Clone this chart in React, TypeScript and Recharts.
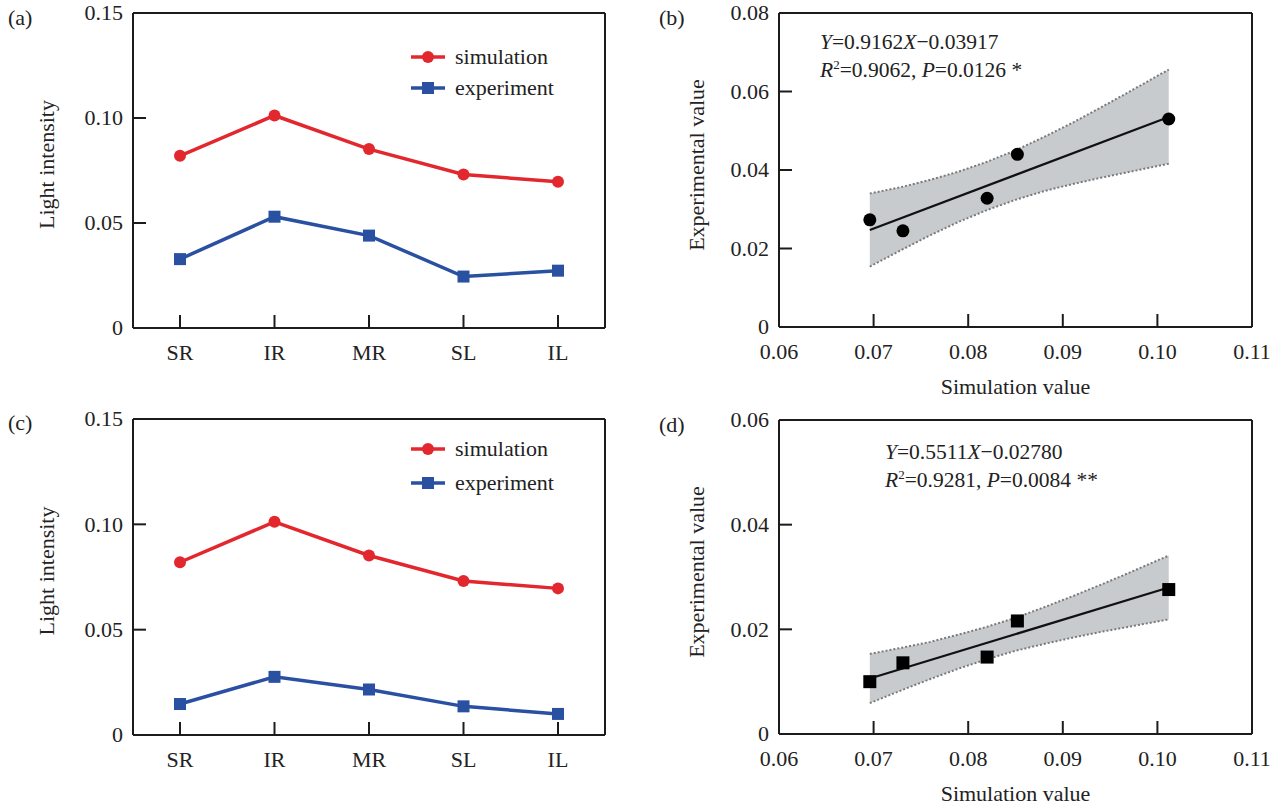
import React from 'react';
import {
  ComposedChart,
  Line,
  XAxis,
  YAxis,
  CartesianGrid,
  Legend,
  Scatter,
  Area,
  Label,
} from 'recharts';

// ---------------- data ----------------
const categories = ['SR', 'IR', 'MR', 'SL', 'IL'];
const simulationA = [0.082, 0.1012, 0.0852, 0.0731, 0.0696];
const experimentA = [0.0328, 0.053, 0.044, 0.0245, 0.0273];
const simulationC = [0.082, 0.1012, 0.0852, 0.0731, 0.0696];
const experimentC = [0.0147, 0.0276, 0.0216, 0.0136, 0.01];
const legendOrder = ['simulation', 'experiment'];

const intensityTicks = [0, 0.05, 0.1, 0.15];
const intensityTickLabels = ['0', '0.05', '0.10', '0.15'];
const simTicks = [0.06, 0.07, 0.08, 0.09, 0.1, 0.11];
const simTickLabels = ['0.06', '0.07', '0.08', '0.09', '0.10', '0.11'];
const expTicksB = [0, 0.02, 0.04, 0.06, 0.08];
const expTickLabelsB = ['0', '0.02', '0.04', '0.06', '0.08'];
const expTicksD = [0, 0.02, 0.04, 0.06];
const expTickLabelsD = ['0', '0.02', '0.04', '0.06'];

// scatter points (simulation value vs experimental value)
const pointSimB = [0.0696, 0.0731, 0.082, 0.0852, 0.1012];
const pointExpB = [0.0273, 0.0245, 0.0328, 0.044, 0.053];
const pointSimD = [0.0696, 0.0731, 0.082, 0.0852, 0.1012];
const pointExpD = [0.01, 0.0136, 0.0147, 0.0216, 0.0276];

// fitted lines (end points)
const fitSimB = [0.0696, 0.1012];
const fitExpB = [0.0247, 0.0535];
const fitSimD = [0.0696, 0.1012];
const fitExpD = [0.0106, 0.028];

// confidence band edges
const bandSim = [0.0696, 0.073, 0.076, 0.079, 0.082, 0.085, 0.088, 0.091, 0.094, 0.097, 0.1012];
const bandUpperB = [0.034, 0.0357, 0.0375, 0.0396, 0.0421, 0.045, 0.0484, 0.052, 0.0559, 0.0599, 0.0656];
const bandLowerB = [0.0154, 0.0197, 0.0234, 0.0268, 0.0298, 0.0324, 0.0346, 0.0364, 0.038, 0.0395, 0.0416];
const bandUpperD = [0.0153, 0.0165, 0.0176, 0.019, 0.0205, 0.0222, 0.0242, 0.0263, 0.0285, 0.0308, 0.0341];
const bandLowerD = [0.0059, 0.0084, 0.0105, 0.0125, 0.0143, 0.0159, 0.0172, 0.0184, 0.0195, 0.0205, 0.0219];

// ---------------- styling ----------------
const FONT = '"Liberation Serif", "Times New Roman", serif';
const TEXT = '#222';
const FRAME = '#1c1c1c';
const RED = '#e3272e';
const BLUE = '#2a50a2';
const BAND = '#c7cbce';
const DOTTED = '#7a7a7a';
const TICK_MARGIN = 10;
const MARK = 13;
const FS = 22;

const lineData = (sim: number[], exp: number[]) =>
  categories.map((c, i) => ({ cat: c, simulation: sim[i], experiment: exp[i] }));
const pairs = (xs: number[], ys: number[]) => xs.map((x, i) => ({ x, y: ys[i] }));
const bandData = (lo: number[], hi: number[]) =>
  bandSim.map((x, i) => ({ x, range: [lo[i], hi[i]], lower: lo[i], upper: hi[i] }));

const dataA = lineData(simulationA, experimentA);
const dataC = lineData(simulationC, experimentC);
const ptsB = pairs(pointSimB, pointExpB);
const ptsD = pairs(pointSimD, pointExpD);
const fitB = pairs(fitSimB, fitExpB);
const fitD = pairs(fitSimD, fitExpD);
const bandB = bandData(bandLowerB, bandUpperB);
const bandD = bandData(bandLowerD, bandUpperD);

// ---------------- ticks ----------------
const makeYTick = (ticks: number[], labels: string[], edges: number[]) => (props: any) => {
  const { x, y, payload } = props;
  const v = payload.value;
  const idx = ticks.findIndex((t) => Math.abs(t - v) < 1e-9);
  const axisX = x + TICK_MARGIN;
  const isEdge = edges.some((e) => Math.abs(e - v) < 1e-9);
  return (
    <g>
      {!isEdge && (
        <line x1={axisX} x2={axisX + MARK} y1={y} y2={y} stroke={FRAME} strokeWidth={2} />
      )}
      <text x={x} y={y} dy="0.34em" textAnchor="end" fontFamily={FONT} fontSize={FS} fill={TEXT}>
        {idx >= 0 ? labels[idx] : String(v)}
      </text>
    </g>
  );
};

const makeXTick = (labelOf: (v: any) => string, edges: number[]) => (props: any) => {
  const { x, y, payload } = props;
  const v = payload.value;
  const axisY = y - TICK_MARGIN;
  const isEdge = typeof v === 'number' && edges.some((e) => Math.abs(e - v) < 1e-9);
  return (
    <g>
      {!isEdge && (
        <line x1={x} x2={x} y1={axisY} y2={axisY - MARK} stroke={FRAME} strokeWidth={2} />
      )}
      <text x={x} y={axisY + 25} dy="0.34em" textAnchor="middle" fontFamily={FONT} fontSize={FS} fill={TEXT}>
        {labelOf(v)}
      </text>
    </g>
  );
};

const simLabel = (v: number) => {
  const i = simTicks.findIndex((t) => Math.abs(t - v) < 1e-9);
  return i >= 0 ? simTickLabels[i] : String(v);
};

const yTitle = (text: string, fromPlot: number, shift: number) => (props: any) => {
  const vb = props.viewBox || {};
  const cx = vb.x + vb.width - fromPlot;
  const cy = vb.y + vb.height / 2 + shift;
  return (
    <text
      x={cx}
      y={cy}
      dy="0.34em"
      transform={`rotate(-90 ${cx} ${cy})`}
      textAnchor="middle"
      fontFamily={FONT}
      fontSize={FS}
      fill={TEXT}
    >
      {text}
    </text>
  );
};

const xTitle = (text: string, below: number) => (props: any) => {
  const vb = props.viewBox || {};
  const cx = vb.x + vb.width / 2;
  const cy = vb.y + below;
  return (
    <text x={cx} y={cy} dy="0.34em" textAnchor="middle" fontFamily={FONT} fontSize={FS} fill={TEXT}>
      {text}
    </text>
  );
};

const frameH = (p: any) => [p.offset.top, p.offset.top + p.offset.height];
const frameV = (p: any) => [p.offset.left, p.offset.left + p.offset.width];

// ---------------- markers ----------------
const circleDot = (color: string, r: number) => (p: any) =>
  p.cx == null ? null : <circle key={`c${p.index}`} cx={p.cx} cy={p.cy} r={r} fill={color} />;
const squareDot = (color: string, s: number) => (p: any) =>
  p.cx == null ? null : (
    <rect key={`s${p.index}`} x={p.cx - s / 2} y={p.cy - s / 2} width={s} height={s} fill={color} />
  );

const makeLegend = (rowH: number) => (props: any) => {
  const payload = [...(props.payload || [])].sort(
    (a: any, b: any) => legendOrder.indexOf(a.dataKey) - legendOrder.indexOf(b.dataKey)
  );
  return (
    <div>
      {payload.map((e: any) => {
        const isSim = e.dataKey === 'simulation';
        const color = isSim ? RED : BLUE;
        return (
          <div key={e.value} style={{ display: 'flex', alignItems: 'center', height: rowH }}>
            <svg width={34} height={16} style={{ display: 'block' }}>
              <line x1={0} x2={34} y1={8} y2={8} stroke={color} strokeWidth={3.5} />
              {isSim ? (
                <circle cx={17} cy={8} r={6} fill={color} />
              ) : (
                <rect x={11} y={2} width={12} height={12} fill={color} />
              )}
            </svg>
            <span style={{ marginLeft: 10, fontFamily: FONT, fontSize: FS, color: TEXT, lineHeight: 1 }}>
              {e.value}
            </span>
          </div>
        );
      })}
    </div>
  );
};

// ---------------- panels ----------------
function LinePanel({ data, top, legendTop, rowH }: any) {
  return (
    <ComposedChart
      width={640}
      height={top === 0 ? 400 : 405}
      data={data}
      margin={{ top: top === 0 ? 13 : 19, right: 35, left: 33, bottom: top === 0 ? 32 : 30 }}
    >
      <CartesianGrid
        stroke={FRAME}
        strokeWidth={2}
        horizontalCoordinatesGenerator={frameH}
        verticalCoordinatesGenerator={frameV}
      />
      <XAxis
        dataKey="cat"
        type="category"
        padding={{ left: 47, right: 47 }}
        height={40}
        axisLine={false}
        tickLine={false}
        tickSize={0}
        tickMargin={TICK_MARGIN}
        interval={0}
        tick={makeXTick((v) => String(v), [])}
      />
      <YAxis
        type="number"
        domain={[0, 0.15]}
        ticks={intensityTicks}
        width={100}
        axisLine={false}
        tickLine={false}
        tickSize={0}
        tickMargin={TICK_MARGIN}
        interval={0}
        tick={makeYTick(intensityTicks, intensityTickLabels, [0, 0.15])}
      >
        <Label content={yTitle('Light intensity', 86, -6)} />
      </YAxis>
      <Legend
        layout="horizontal"
        verticalAlign="middle"
        align="center"
        wrapperStyle={{ left: 411, top: legendTop, width: 'auto' }}
        content={makeLegend(rowH)}
      />
      <Line
        dataKey="simulation"
        name="simulation"
        stroke={RED}
        strokeWidth={3.5}
        dot={circleDot(RED, 6)}
        activeDot={false}
        isAnimationActive={false}
      />
      <Line
        dataKey="experiment"
        name="experiment"
        stroke={BLUE}
        strokeWidth={3.5}
        dot={squareDot(BLUE, 12)}
        activeDot={false}
        isAnimationActive={false}
      />
    </ComposedChart>
  );
}

function ScatterPanel({ pts, fit, band, yTicks, yLabels, yMax, height, top, bottom, square }: any) {
  return (
    <ComposedChart width={641} height={height} margin={{ top, right: 29, left: 39, bottom }}>
      <CartesianGrid
        stroke={FRAME}
        strokeWidth={2}
        horizontalCoordinatesGenerator={frameH}
        verticalCoordinatesGenerator={frameV}
      />
      <XAxis
        type="number"
        dataKey="x"
        domain={[0.06, 0.11]}
        ticks={simTicks}
        allowDataOverflow
        height={40}
        axisLine={false}
        tickLine={false}
        tickSize={0}
        tickMargin={TICK_MARGIN}
        interval={0}
        tick={makeXTick(simLabel, [0.06, 0.11])}
      >
        <Label content={xTitle('Simulation value', 60)} />
      </XAxis>
      <YAxis
        type="number"
        domain={[0, yMax]}
        ticks={yTicks}
        allowDataOverflow
        width={100}
        axisLine={false}
        tickLine={false}
        tickSize={0}
        tickMargin={TICK_MARGIN}
        interval={0}
        tick={makeYTick(yTicks, yLabels, [0, yMax])}
      >
        <Label content={yTitle('Experimental value', 82, -5)} />
      </YAxis>
      <Area
        data={band}
        dataKey="range"
        type="linear"
        stroke="none"
        fill={BAND}
        fillOpacity={1}
        activeDot={false}
        isAnimationActive={false}
      />
      <Line
        data={band}
        dataKey="upper"
        stroke={DOTTED}
        strokeWidth={2}
        strokeDasharray="2 2"
        dot={false}
        activeDot={false}
        isAnimationActive={false}
      />
      <Line
        data={band}
        dataKey="lower"
        stroke={DOTTED}
        strokeWidth={2}
        strokeDasharray="2 2"
        dot={false}
        activeDot={false}
        isAnimationActive={false}
      />
      <Line
        data={fit}
        dataKey="y"
        stroke="#111"
        strokeWidth={2.2}
        dot={false}
        activeDot={false}
        isAnimationActive={false}
      />
      <Scatter
        data={pts}
        dataKey="y"
        isAnimationActive={false}
        shape={(p: any) =>
          square ? (
            <rect x={p.cx - 6.5} y={p.cy - 6.5} width={13} height={13} fill="#000" />
          ) : (
            <circle cx={p.cx} cy={p.cy} r={6.5} fill="#000" />
          )
        }
      />
    </ComposedChart>
  );
}

const txt: React.CSSProperties = {
  position: 'absolute',
  fontFamily: FONT,
  fontSize: FS,
  color: TEXT,
  whiteSpace: 'nowrap',
  lineHeight: '26px',
};
const eq: React.CSSProperties = { ...txt, fontSize: 21.5 };
const sup: React.CSSProperties = { fontSize: 13, position: 'relative', top: -8 };

export default function App() {
  return (
    <div
      style={{
        position: 'absolute',
        left: 0,
        top: 0,
        width: 1281,
        height: 805,
        background: '#fff',
        fontFamily: FONT,
        overflow: 'hidden',
      }}
    >
      <div style={{ position: 'absolute', left: 0, top: 0 }}>
        <LinePanel data={dataA} top={0} legendTop={41} rowH={31} />
      </div>
      <div style={{ position: 'absolute', left: 640, top: 0 }}>
        <ScatterPanel
          pts={ptsB}
          fit={fitB}
          band={bandB}
          yTicks={expTicksB}
          yLabels={expTickLabelsB}
          yMax={0.08}
          height={400}
          top={13}
          bottom={33}
          square={false}
        />
      </div>
      <div style={{ position: 'absolute', left: 0, top: 400 }}>
        <LinePanel data={dataC} top={400} legendTop={32} rowH={34} />
      </div>
      <div style={{ position: 'absolute', left: 640, top: 400 }}>
        <ScatterPanel
          pts={ptsD}
          fit={fitD}
          band={bandD}
          yTicks={expTicksD}
          yLabels={expTickLabelsD}
          yMax={0.06}
          height={405}
          top={20}
          bottom={31}
          square={true}
        />
      </div>

      <div style={{ ...txt, left: 8, top: 5 }}>(a)</div>
      <div style={{ ...txt, left: 659, top: 5 }}>(b)</div>
      <div style={{ ...txt, left: 8, top: 410 }}>(c)</div>
      <div style={{ ...txt, left: 659, top: 412 }}>(d)</div>

      <div style={{ ...eq, left: 820, top: 29 }}>
        <i>Y</i>=0.9162<i>X</i>−0.03917
      </div>
      <div style={{ ...eq, left: 820, top: 57 }}>
        <i>R</i>
        <span style={sup}>2</span>=0.9062, <i>P</i>=0.0126 *
      </div>
      <div style={{ ...eq, left: 885, top: 439 }}>
        <i>Y</i>=0.5511<i>X</i>−0.02780
      </div>
      <div style={{ ...eq, left: 885, top: 467 }}>
        <i>R</i>
        <span style={sup}>2</span>=0.9281, <i>P</i>=0.0084 **
      </div>
    </div>
  );
}
